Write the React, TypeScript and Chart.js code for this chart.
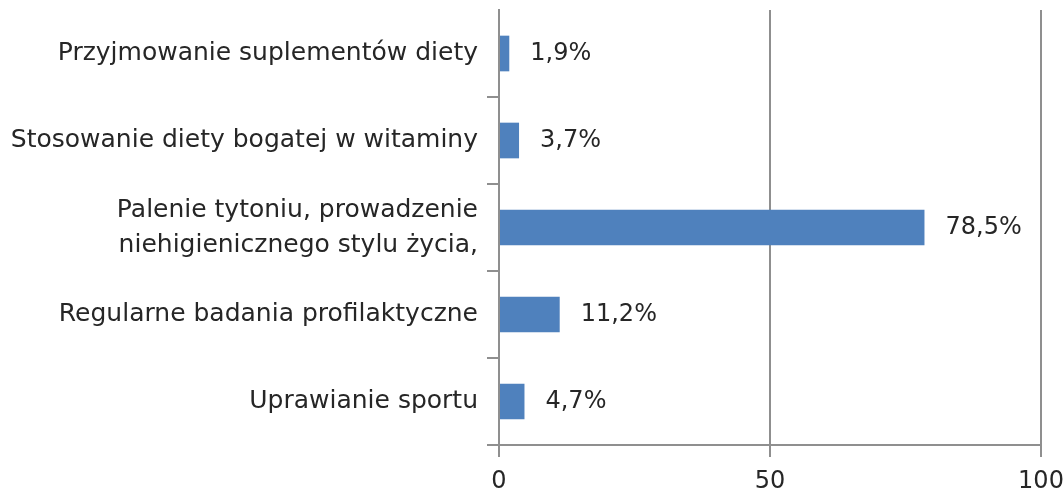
import React, { useEffect, useRef } from "react";
import { Chart, registerables } from "chart.js";

Chart.register(...registerables);

const categories: (string | string[])[] = [
  "Przyjmowanie suplementów diety",
  "Stosowanie diety bogatej w witaminy",
  ["Palenie tytoniu, prowadzenie", "niehigienicznego stylu życia,"],
  "Regularne badania profilaktyczne",
  "Uprawianie sportu",
];
const values = [1.9, 3.7, 78.5, 11.2, 4.7];
const xTicks = [0, 50, 100];

const FONT = "'DejaVu Sans', sans-serif";
const TEXT = "#262626";
const AXIS = "#8f8f8f";
const BAR = "#4F81BD";

const valueLabels = {
  id: "valueLabels",
  afterDatasetsDraw(chart: any) {
    const ctx = chart.ctx;
    const meta = chart.getDatasetMeta(0);
    ctx.save();
    ctx.font = `24px ${FONT}`;
    ctx.fillStyle = TEXT;
    ctx.textAlign = "left";
    ctx.textBaseline = "middle";
    meta.data.forEach((bar: any, i: number) => {
      const txt = values[i].toFixed(1).replace(".", ",") + "%";
      ctx.fillText(txt, bar.x + 21, bar.y);
    });
    ctx.restore();
  },
};

export default function App() {
  const ref = useRef<HTMLCanvasElement | null>(null);
  useEffect(() => {
    if (!ref.current) return;
    const chart = new Chart(ref.current, {
      type: "bar",
      data: {
        labels: categories,
        datasets: [
          {
            data: values,
            backgroundColor: BAR,
            borderWidth: 0,
            barPercentage: 0.41,
            categoryPercentage: 1,
          },
        ],
      },
      options: {
        indexAxis: "y",
        animation: false,
        responsive: false,
        maintainAspectRatio: false,
        layout: { padding: { top: 10, right: 23, left: 0, bottom: 0 } },
        plugins: { legend: { display: false }, tooltip: { enabled: false } },
        scales: {
          x: {
            min: 0,
            max: 100,
            afterBuildTicks: (s: any) => {
              s.ticks = xTicks.map((v) => ({ value: v }));
            },
            grid: { color: AXIS, lineWidth: 2, tickLength: 12 },
            border: { color: AXIS, width: 2 },
            ticks: {
              padding: 10,
              maxRotation: 0,
              color: TEXT,
              font: { family: FONT, size: 24 },
            },
            afterFit: (s: any) => {
              s.height = 49;
              s.paddingLeft = 0;
              s.paddingRight = 0;
            },
          },
          y: {
            grid: {
              offset: true,
              drawOnChartArea: false,
              tickLength: 12,
              lineWidth: 2,
              color: (c: any) => (c.index === 0 ? "rgba(0,0,0,0)" : AXIS),
            },
            border: { color: AXIS, width: 2 },
            ticks: {
              padding: 9,
              color: TEXT,
              font: { family: FONT, size: 25, lineHeight: 1.4 },
            },
            afterFit: (s: any) => {
              s.width = 499;
              s.paddingTop = 0;
              s.paddingBottom = 0;
            },
          },
        },
      },
      plugins: [valueLabels],
    });
    return () => chart.destroy();
  }, []);
  return (
    <div style={{ position: "absolute", left: 0, top: 0, width: 1064, height: 494, background: "#fff" }}>
      <canvas ref={ref} width={1064} height={494} style={{ display: "block" }} />
    </div>
  );
}
